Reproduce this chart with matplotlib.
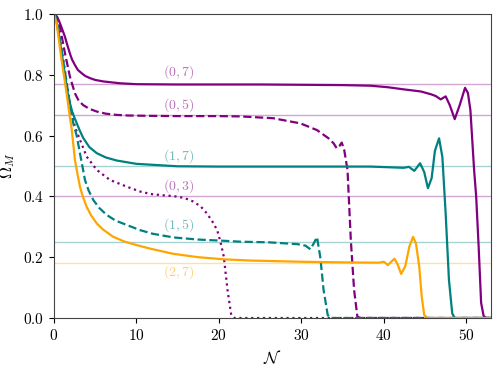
import matplotlib
matplotlib.use("Agg")
from matplotlib import pyplot as plt

plt.rcParams['mathtext.fontset'] = 'cm'
plt.rcParams['font.family'] = 'serif'
plt.rcParams['font.serif'] = ['cmr10', 'DejaVu Serif']
plt.rcParams['axes.formatter.use_mathtext'] = True

purple = '#800080'
teal = '#008080'
orange = '#FFA500'

# (0,7) solid purple
n07 = [0, 0.12, 0.4, 0.73, 1.34, 1.6, 1.94, 2.2, 2.55, 2.9, 3.37, 3.8, 4.37, 5.0, 6.0, 8.0, 10,
       15, 20, 25, 30, 35, 38.4, 40.5, 42.4, 44.5, 45.7, 46.3, 46.9, 47.5, 48.0, 48.6, 49.2,
       49.85, 50.2, 50.5, 50.95, 51.2, 51.5, 51.8, 52.1, 52.4, 53]
o07 = [1.0, 0.998, 0.99, 0.97, 0.925, 0.90, 0.87, 0.85, 0.832, 0.816, 0.805, 0.796, 0.789, 0.783,
       0.778, 0.772, 0.769, 0.768, 0.768, 0.768, 0.767, 0.766, 0.764, 0.759, 0.752, 0.745, 0.736,
       0.730, 0.719, 0.729, 0.70, 0.654, 0.70, 0.757, 0.74, 0.684, 0.487, 0.40, 0.235, 0.05, 0.007,
       0.0, 0.0]

# (0,5) dashed purple
n05 = [0, 0.3, 0.73, 1.34, 1.94, 2.55, 3.0, 3.56, 4.3, 5.2, 6.3, 7.6, 9, 11.3, 15, 20, 22.6,
       26.6, 29.9, 31.9, 33.3, 33.9, 34.3, 34.6, 34.9, 35.2, 35.6, 36.0, 36.4, 36.8, 37.2, 53]
o05 = [1.0, 0.99, 0.958, 0.871, 0.794, 0.739, 0.715, 0.70, 0.688, 0.679, 0.672, 0.668, 0.666,
       0.665, 0.664, 0.664, 0.663, 0.657, 0.640, 0.618, 0.591, 0.575, 0.558, 0.565, 0.577, 0.553,
       0.487, 0.257, 0.092, 0.004, 0.0, 0.0]

# (1,7) solid teal
n17 = [0, 0.2, 0.52, 1.13, 1.74, 2.2, 2.55, 3.16, 3.56, 4.3, 5.2, 6.3, 7.6, 10, 15, 20, 30, 38.4,
       42.4, 43.05, 43.7, 44.4, 44.9, 45.35, 45.8, 46.2, 46.7, 47.1, 47.5, 47.9, 48.3, 48.6, 49, 53]
o17 = [1.0, 0.99, 0.947, 0.838, 0.728, 0.68, 0.655, 0.615, 0.592, 0.562, 0.542, 0.528, 0.518,
       0.507, 0.499, 0.498, 0.498, 0.498, 0.494, 0.497, 0.484, 0.509, 0.48, 0.427, 0.46, 0.55, 0.591,
       0.53, 0.344, 0.125, 0.015, 0.0, 0.0, 0.0]

# (1,5) dashed teal
n15 = [0, 0.3, 0.93, 1.74, 2.35, 2.76, 3.16, 3.45, 3.77, 4.2, 4.78, 5.5, 6.4, 7.5, 8.83, 10.45,
       12, 14.5, 17.5, 20.6, 22.6, 26, 29.5, 30.5, 31.1, 31.5, 31.9, 32.3, 32.7, 33.2, 33.5, 53]
o15 = [1.0, 0.98, 0.88, 0.74, 0.64, 0.60, 0.542, 0.50, 0.454, 0.42, 0.388, 0.362, 0.339, 0.32,
       0.306, 0.289, 0.277, 0.265, 0.258, 0.254, 0.251, 0.249, 0.243, 0.238, 0.226, 0.245, 0.266,
       0.20, 0.092, 0.01, 0.0, 0.0]

# (0,3) dotted purple
n03 = [0, 0.4, 1.13, 1.74, 2.15, 2.6, 3.16, 3.97, 5.2, 6.8, 8.83, 10.45, 11.7, 13, 14.5,
       15.8, 16.9, 17.8, 18.55, 19.2, 19.8, 20.2, 20.6, 21.05, 21.5, 21.9, 53]
o03 = [1.0, 0.975, 0.849, 0.739, 0.67, 0.625, 0.586, 0.531, 0.487, 0.454, 0.432, 0.416,
       0.408, 0.404, 0.401, 0.395, 0.383, 0.367, 0.344, 0.318, 0.289, 0.25, 0.202, 0.092, 0.01,
       0.0, 0.0]

# (2,7) solid orange
n27 = [0, 0.33, 0.93, 1.54, 1.94, 2.15, 2.55, 2.85, 3.16, 3.5, 3.97, 4.5, 5.2, 6.0, 7.2, 8.5,
       10, 11.7, 14.5, 17.5, 20.6, 23.8, 30, 35, 39.4, 40.0, 40.5, 40.9, 41.3, 41.7, 42.1, 42.6,
       43.1, 43.55, 43.9, 44.3, 44.6, 44.9, 45.3, 53]
o27 = [1.0, 0.97, 0.849, 0.739, 0.66, 0.624, 0.52, 0.475, 0.432, 0.40, 0.366, 0.338, 0.311,
       0.29, 0.267, 0.252, 0.24, 0.228, 0.211, 0.200, 0.193, 0.189, 0.185, 0.183, 0.182, 0.185,
       0.174, 0.185, 0.195, 0.175, 0.145, 0.17, 0.235, 0.267, 0.245, 0.169, 0.07, 0.01, 0.0, 0.0]

# asymptotic values and their labels
levels = [0.769, 2 / 3, 0.5, 0.4, 0.25, 0.182]
level_colors = [purple, purple, teal, purple, teal, orange]
labels = ['$(0,7)$', '$(0,5)$', '$(1,7)$', '$(0,3)$', '$(1,5)$', '$(2,7)$']
label_x = [15.1, 15.1, 15.1, 15.1, 15.1, 15.1]
label_y = [0.81, 0.70, 0.533, 0.434, 0.306, 0.151]

fig = plt.figure(figsize=(4.99, 3.67), dpi=100)
ax = fig.add_axes([0.108, 0.1335, 0.876, 0.8285])

for lv, c in zip(levels, level_colors):
    ax.axhline(lv, color=c, alpha=0.35, lw=1.0)

ax.plot(n07, o07, color=purple, lw=1.6)
ax.plot(n05, o05, color=purple, lw=1.6, ls='--')
ax.plot(n03, o03, color=purple, lw=1.6, ls=':')
ax.plot(n17, o17, color=teal, lw=1.6)
ax.plot(n15, o15, color=teal, lw=1.6, ls='--')
ax.plot(n27, o27, color=orange, lw=1.6)

for lx, ly, t, c in zip(label_x, label_y, labels, level_colors):
    ax.text(lx, ly, t, color=c, alpha=0.55, fontsize=10, ha='center', va='center')

ax.set_xlim(0, 53)
ax.set_ylim(0, 1)
ax.set_xticks([0, 10, 20, 30, 40, 50])
ax.set_yticks([0, 0.2, 0.4, 0.6, 0.8, 1.0])
ax.tick_params(labelsize=11)
ax.set_xlabel(r'$\mathcal{N}$', fontsize=12)
ax.set_ylabel(r'$\Omega_M$', fontsize=12)
for s in ax.spines.values():
    s.set_color('#444444')

fig.savefig('out.png', dpi=100)
